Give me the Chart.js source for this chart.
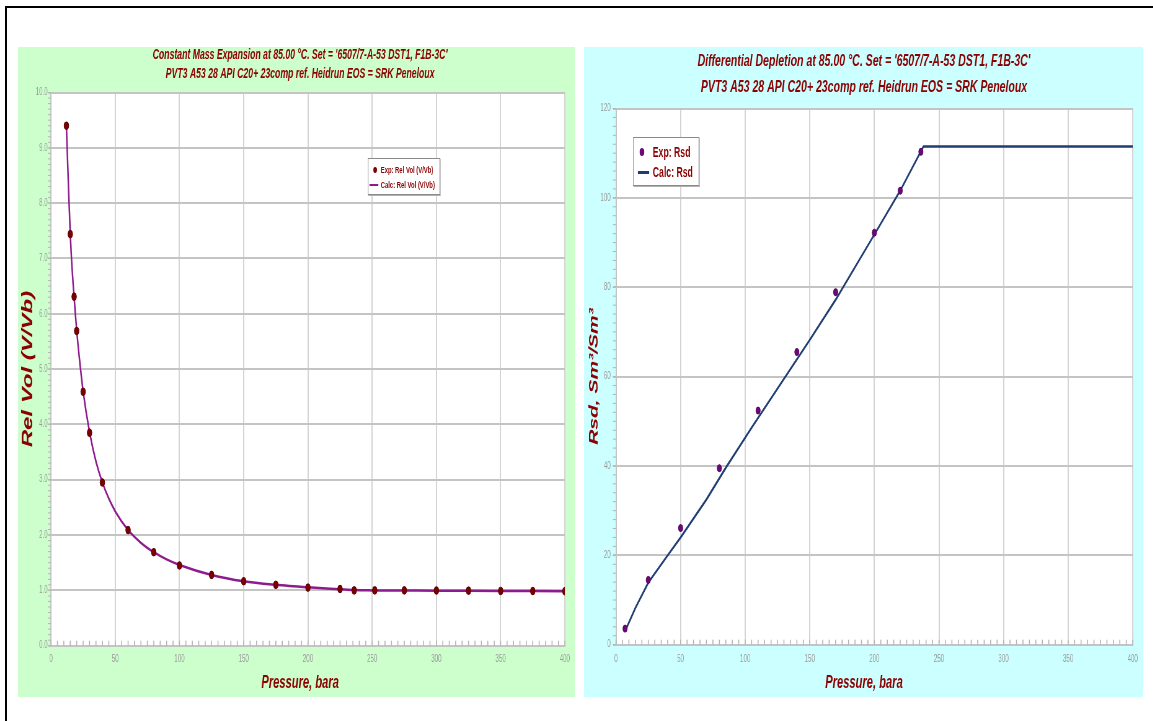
<!DOCTYPE html>
<html><head><meta charset="utf-8">
<script src="https://cdn.jsdelivr.net/npm/chart.js@4.4.1/dist/chart.umd.min.js"></script>
<style>
html,body{margin:0;padding:0;background:#fff;overflow:hidden;width:1153px;height:721px;}
#frame{position:absolute;left:5px;top:6px;width:2000px;height:2000px;border-left:2px solid #000;border-top:2px solid #000;}
.panel{position:absolute;top:47px;height:650px;transform:scaleX(0.62);transform-origin:0 0;}
.panel canvas{position:absolute;left:0;top:0;}
.legend{position:absolute;background:#fff;border:1px solid #8a8a8a;box-shadow:1px 1px 0 #b0b0b0;box-sizing:border-box;font-family:'Liberation Sans',Arial,sans-serif;font-weight:bold;color:#8b0000;}
.legend .row{position:absolute;white-space:nowrap;}
.legend .mk{position:absolute;}
</style></head>
<body>
<div id="frame"></div>
<div class="panel" id="p1" style="left:18px;width:898px;background:#ccffcc;">
  <canvas id="c1" width="898" height="650"></canvas>
  <div class="legend" id="leg1" style="left:564px;top:111px;width:117px;height:37px;font-size:9.5px;"></div>
</div>
<div class="panel" id="p2" style="left:584px;width:902px;background:#ccffff;">
  <canvas id="c2" width="902" height="650"></canvas>
  <div class="legend" id="leg2" style="left:79px;top:90px;width:107px;height:49px;font-size:14px;"></div>
</div>
<script>
// ---- data ----
const cmeExpPressure = [12, 15, 18, 20, 25, 30, 40, 60, 80, 100, 125, 150, 175, 200, 225, 236, 252, 275, 300, 325, 350, 375, 400];
const cmeExpRelVol   = [9.40, 7.44, 6.31, 5.69, 4.59, 3.85, 2.95, 2.09, 1.69, 1.45, 1.28, 1.165, 1.10, 1.05, 1.025, 1.00, 1.00, 1.00, 0.998, 0.995, 0.99, 0.988, 0.985];
const cmeCalcPressure = [12, 13, 14, 15, 16, 18, 20, 22, 25, 30, 35, 40, 45, 50, 60, 70, 80, 90, 100, 125, 150, 175, 200, 225, 236, 250, 300, 350, 400];
const cmeCalcRelVol   = [9.40, 8.70, 8.05, 7.45, 6.98, 6.30, 5.70, 5.22, 4.60, 3.86, 3.33, 2.95, 2.66, 2.43, 2.09, 1.86, 1.69, 1.56, 1.46, 1.28, 1.165, 1.10, 1.055, 1.02, 1.005, 1.00, 0.995, 0.99, 0.985];

const dlExpPressure = [7, 25, 50, 80, 110, 140, 170, 200, 220, 236];
const dlExpRsd      = [3.6, 14.5, 26.1, 39.5, 52.4, 65.5, 78.9, 92.2, 101.6, 110.3];
const dlCalcPressure = [7, 15, 25, 40, 50, 70, 85, 105, 130, 150, 170, 200, 220, 238, 400];
const dlCalcRsd      = [3.0, 8.2, 13.9, 20.0, 24.0, 32.5, 39.6, 48.6, 59.5, 68.2, 77.2, 91.8, 101.6, 111.5, 111.5];

const pressureTicks = [0, 50, 100, 150, 200, 250, 300, 350, 400];
const relVolTicks = [0, 1, 2, 3, 4, 5, 6, 7, 8, 9, 10];
const rsdTicks = [0, 20, 40, 60, 80, 100, 120];

const cmeTitle = ["Constant Mass Expansion at 85.00 °C. Set = '6507/7-A-53 DST1, F1B-3C'",
                  "PVT3 A53 28 API C20+ 23comp ref. Heidrun EOS = SRK Peneloux"];
const dlTitle  = ["Differential Depletion at 85.00 °C. Set = '6507/7-A-53 DST1, F1B-3C'",
                  "PVT3 A53 28 API C20+ 23comp ref. Heidrun EOS = SRK Peneloux"];
const xAxisTitle = 'Pressure, bara';
const cmeYTitle = 'Rel Vol (V/Vb)';
const dlYTitle = 'Rsd, Sm³/Sm³';
const cmeLabels = ['Exp: Rel Vol (V/Vb)', 'Calc: Rel Vol (V/Vb)'];
const dlLabels = ['Exp: Rsd', 'Calc: Rsd'];

// ---- helpers ----
const FONT = "'Liberation Sans', Arial, sans-serif";
const DARKRED = '#8b0000';
const TICK = '#9a9a9a';
const toXY = (xs, ys) => xs.map((x, i) => ({x: x, y: ys[i]}));

const plotBg = {
  id: 'plotBg',
  beforeDraw(chart) {
    const {ctx, chartArea: a} = chart;
    ctx.save(); ctx.fillStyle = '#ffffff';
    ctx.fillRect(a.left, a.top, a.right - a.left, a.bottom - a.top);
    ctx.restore();
  }
};
const minorTicks = {
  id: 'minorTicks',
  afterDatasetsDraw(chart, args, opts) {
    const {ctx, chartArea: a} = chart;
    ctx.save(); ctx.strokeStyle = '#b4b4b4';
    const xs = chart.scales.x, ys = chart.scales.y;
    if (opts.x) {
      ctx.lineWidth = 1.6;
      const n = Math.round((xs.max - xs.min) / opts.x.step);
      for (let i = 0; i <= n; i++) {
        const p = xs.getPixelForValue(xs.min + i * opts.x.step);
        ctx.beginPath(); ctx.moveTo(p, a.bottom); ctx.lineTo(p, a.bottom - opts.x.len); ctx.stroke();
      }
    }
    if (opts.y) {
      ctx.lineWidth = 1;
      const n = Math.round((ys.max - ys.min) / opts.y.step);
      for (let i = 0; i <= n; i++) {
        const p = ys.getPixelForValue(ys.min + i * opts.y.step);
        ctx.beginPath(); ctx.moveTo(a.left, p); ctx.lineTo(a.left - opts.y.len, p); ctx.stroke();
      }
    }
    ctx.restore();
  }
};

function makeChart(id, c) {
  return new Chart(document.getElementById(id), {
    type: 'scatter',
    data: {datasets: [
      {label: c.labels[0], data: c.exp, showLine: false, pointRadius: c.r, pointHoverRadius: c.r,
       pointBackgroundColor: c.expColor, pointBorderColor: c.expBorder, pointBorderWidth: 1,
       backgroundColor: c.expColor, borderColor: c.expBorder},
      {label: c.labels[1], data: c.calc, showLine: true, pointRadius: 0, pointHoverRadius: 0,
       borderColor: c.calcColor, backgroundColor: c.calcColor, borderWidth: c.lw,
       cubicInterpolationMode: c.mono ? 'monotone' : 'default', tension: 0, fill: false}
    ]},
    options: {
      responsive: false, animation: false, devicePixelRatio: 1,
      layout: {padding: {left: c.padLeft, right: c.padRight, top: 0, bottom: 0}},
      plugins: {
        legend: {display: false}, tooltip: {enabled: false},
        title: {display: true, text: c.title, color: DARKRED,
                font: {family: FONT, size: c.titleSize, weight: 'bold', style: 'italic', lineHeight: c.titleLH},
                padding: c.titlePad},
        subtitle: {display: true, position: 'bottom', text: xAxisTitle, color: DARKRED,
                   font: {family: FONT, size: 18, weight: 'bold', style: 'italic'},
                   padding: {top: c.subPadTop, bottom: 3}},
        minorTicks: c.minor
      },
      scales: {
        x: {type: 'linear', min: 0, max: 400,
            afterBuildTicks: s => { s.ticks = pressureTicks.map(v => ({value: v})); },
            afterFit: s => { s.height = c.xH; },
            ticks: {color: TICK, font: {family: FONT, size: 10}, padding: c.xPad, autoSkip: false, maxRotation: 0,
                    callback: v => String(v)},
            grid: {color: '#d4d4d4', lineWidth: 2, drawTicks: false},
            border: {display: true, color: '#c4c4c4', width: 2}},
        y: {type: 'linear', min: 0, max: c.yMax,
            afterBuildTicks: s => { s.ticks = c.yTicks.map(v => ({value: v})); },
            afterFit: s => { s.width = c.yW; },
            ticks: {color: TICK, font: {family: FONT, size: 10}, padding: c.yPad, callback: c.yFmt},
            grid: {color: '#c4c4c4', lineWidth: 2, tickLength: c.tickLen, drawTicks: true},
            border: {display: true, color: '#c4c4c4', width: 2},
            title: {display: true, text: c.yTitle, color: DARKRED,
                    font: {family: FONT, size: c.yTitleSize, weight: 'bold', style: 'italic'},
                    padding: {top: c.yTitlePad, bottom: 0}}}
      }
    },
    plugins: [plotBg, minorTicks]
  });
}

function htmlLegend(chart, el, L) {
  const items = Chart.defaults.plugins.legend.labels.generateLabels(chart);
  items.forEach((it, i) => {
    const ds = chart.data.datasets[it.datasetIndex];
    const cy = L.rows[i];
    const mk = document.createElement('div');
    mk.className = 'mk';
    if (ds.showLine) {
      mk.style.left = L.lineX + 'px'; mk.style.width = L.lineW + 'px';
      mk.style.top = (cy - L.lineH / 2) + 'px'; mk.style.height = L.lineH + 'px';
      mk.style.background = ds.borderColor;
    } else {
      mk.style.left = (L.dotX - L.r) + 'px'; mk.style.top = (cy - L.r) + 'px';
      mk.style.width = (2 * L.r) + 'px'; mk.style.height = (2 * L.r) + 'px';
      mk.style.borderRadius = '50%'; mk.style.background = ds.pointBackgroundColor;
    }
    el.appendChild(mk);
    const tx = document.createElement('div');
    tx.className = 'row';
    tx.textContent = it.text;
    tx.style.left = L.textX + 'px';
    tx.style.lineHeight = L.lh + 'px';
    tx.style.top = (cy - L.lh / 2) + 'px';
    el.appendChild(tx);
  });
}

const ch1 = makeChart('c1', {
  labels: cmeLabels, exp: toXY(cmeExpPressure, cmeExpRelVol), calc: toXY(cmeCalcPressure, cmeCalcRelVol),
  r: 3.8, expColor: '#7c0000', expBorder: '#5a0000', calcColor: '#8e1a8e', lw: 2.5, mono: true,
  padLeft: 26, padRight: 14, title: cmeTitle, titleSize: 14, titleLH: '19px', titlePad: {top: -1.5, bottom: 9},
  subPadTop: 6.7, xH: 20, xPad: 7.6, yMax: 10, yTicks: relVolTicks, yW: 27.2, yPad: 1.3, tickLen: 4,
  yFmt: v => Number(v).toFixed(1), yTitle: cmeYTitle, yTitleSize: 24, yTitlePad: -24.4,
  minor: {x: {step: 5, len: 5}, y: {step: 0.1, len: 5}}
});
const ch2 = makeChart('c2', {
  labels: dlLabels, exp: toXY(dlExpPressure, dlExpRsd), calc: toXY(dlCalcPressure, dlCalcRsd),
  r: 3.5, expColor: '#6a0a7a', expBorder: '#55005f', calcColor: '#1f3d73', lw: 2.5, mono: false,
  padLeft: 14.5, padRight: 13.3, title: dlTitle, titleSize: 17, titleLH: '25.6px', titlePad: {top: 1.9, bottom: 8.4},
  subPadTop: 6.7, xH: 21, xPad: 8.6, yMax: 120, yTicks: rsdTicks, yW: 37.1, yPad: 3.6, tickLen: 5,
  yFmt: v => String(v), yTitle: dlYTitle, yTitleSize: 21, yTitlePad: -11.1,
  minor: {x: {step: 5, len: 5}, y: {step: 2, len: 5}}
});

htmlLegend(ch1, document.getElementById('leg1'), {rows: [11, 26], dotX: 11, r: 3.2, lineX: 2, lineW: 14, lineH: 2.5, textX: 20, lh: 12});
htmlLegend(ch2, document.getElementById('leg2'), {rows: [14, 34.3], dotX: 13.5, r: 3.6, lineX: 6.5, lineW: 18.5, lineH: 3, textX: 31, lh: 17});
</script>
</body></html>
